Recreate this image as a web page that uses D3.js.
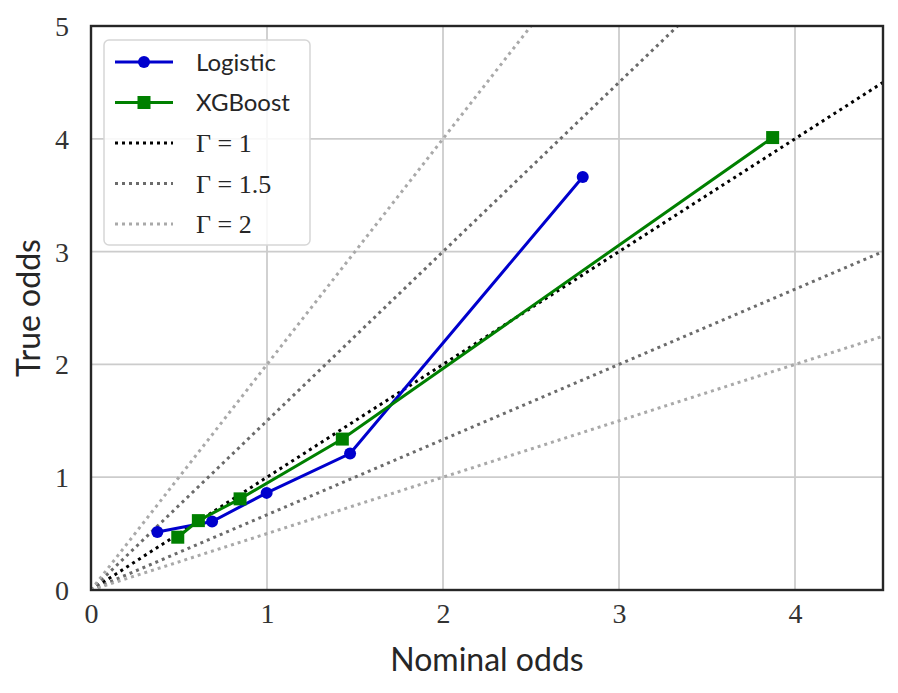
<!DOCTYPE html>
<html><head><meta charset="utf-8">
<script src="https://cdn.jsdelivr.net/npm/d3@7"></script>
<style>body{margin:0;background:#fff}</style>
</head><body>
<svg id="c" width="898" height="693"></svg>
<script>
const logisticX = [0.377, 0.688, 0.998, 1.472, 2.794];
const logisticY = [0.515, 0.607, 0.861, 1.21, 3.662];
const xgbX = [0.493, 0.610, 0.847, 1.428, 3.873];
const xgbY = [0.468, 0.615, 0.808, 1.338, 4.011];
const gammas = [1, 1.5, 2];
const gammaColors = ["#000000", "#6b6b6b", "#a9a9a9"];
const xTicks = [0, 1, 2, 3, 4];
const yTicks = [0, 1, 2, 3, 4, 5];
const xDomain = [0, 4.5], yDomain = [0, 5];

const svg = d3.select("#c");
const L = 91, R = 883, T = 26, B = 590;
const x = d3.scaleLinear().domain(xDomain).range([L, R]);
const y = d3.scaleLinear().domain(yDomain).range([B, T]);

const defs = svg.append("defs");
defs.append("clipPath").attr("id","clip").append("rect").attr("x",L).attr("y",T).attr("width",R-L).attr("height",B-T);

// grid
const g = svg.append("g");
g.selectAll(".gx").data(xTicks).join("line").attr("x1",d=>x(d)).attr("x2",d=>x(d)).attr("y1",T).attr("y2",B)
 .attr("stroke","#cccccc").attr("stroke-width",1.8);
g.selectAll(".gy").data(yTicks).join("line").attr("y1",d=>y(d)).attr("y2",d=>y(d)).attr("x1",L).attr("x2",R)
 .attr("stroke","#cccccc").attr("stroke-width",1.8);

// gamma lines
const cl = svg.append("g").attr("clip-path","url(#clip)");
const dash = "3,4";
gammas.forEach((G,i)=>{
  const slopes = G===1 ? [1] : [G, 1/G];
  slopes.forEach(s=>{
    const xe = Math.min(xDomain[1], yDomain[1]/s);
    const line = d3.line().x(d=>x(d[0])).y(d=>y(d[1]));
    cl.append("path").attr("d", line([[0,0],[xe, xe*s]]))
      .attr("fill","none").attr("stroke",gammaColors[i]).attr("stroke-width",3)
      .attr("stroke-dasharray",dash).attr("stroke-linecap","butt");
  });
});

// series
const lineGen = d3.line().x(d=>x(d[0])).y(d=>y(d[1]));
const logData = logisticX.map((v,i)=>[v,logisticY[i]]);
const xgbData = xgbX.map((v,i)=>[v,xgbY[i]]);
const blue = "#0000cd", green = "#008000";
cl.append("path").attr("d",lineGen(logData)).attr("fill","none").attr("stroke",blue).attr("stroke-width",3);
cl.selectAll(".lp").data(logData).join("circle").attr("cx",d=>x(d[0])).attr("cy",d=>y(d[1])).attr("r",6).attr("fill",blue);
cl.append("path").attr("d",lineGen(xgbData)).attr("fill","none").attr("stroke",green).attr("stroke-width",3);
cl.selectAll(".xp").data(xgbData).join("rect").attr("x",d=>x(d[0])-6.5).attr("y",d=>y(d[1])-6.5).attr("width",13).attr("height",13).attr("fill",green);

// spines
svg.append("rect").attr("x",L).attr("y",T).attr("width",R-L).attr("height",B-T).attr("fill","none").attr("stroke","#262626").attr("stroke-width",2.4);

// ticks
const xAxis = d3.axisBottom(x).tickValues(xTicks).tickSize(0).tickPadding(12).tickFormat(d3.format("d"));
const xa = svg.append("g").attr("transform",`translate(0,${B})`).call(xAxis);
const yAxis = d3.axisLeft(y).tickValues(yTicks).tickSize(0).tickPadding(22).tickFormat(d3.format("d"));
const ya = svg.append("g").attr("transform",`translate(${L},0)`).call(yAxis);
[xa,ya].forEach(a=>{a.select(".domain").remove();
  a.selectAll("text").attr("font-family","'Liberation Serif','DejaVu Serif',serif").attr("font-size",28).attr("fill","#333333");});
xa.selectAll("text").attr("dy","0.75em");
ya.selectAll("text").attr("dy","0.34em");

// axis labels
svg.append("text").attr("x",(L+R)/2).attr("y",671).attr("text-anchor","middle")
  .attr("font-family","Lato,'DejaVu Sans',sans-serif").attr("font-size",32).attr("fill","#262626").text("Nominal odds");
svg.append("text").attr("transform",`translate(40,${(T+B)/2}) rotate(-90)`).attr("text-anchor","middle")
  .attr("font-family","Lato,'DejaVu Sans',sans-serif").attr("font-size",32).attr("fill","#262626").text("True odds");

// legend
const lg = svg.append("g");
lg.append("rect").attr("x",104).attr("y",40).attr("width",206).attr("height",205).attr("rx",5)
  .attr("fill","#ffffff").attr("fill-opacity",0.85).attr("stroke","#d6d6d6").attr("stroke-width",1.5);
const items = [
  {label:"Logistic", color:blue, marker:"circle", dash:null, sans:true},
  {label:"XGBoost", color:green, marker:"square", dash:null, sans:true},
  ...gammas.map((G,i)=>({label:"Γ\u2005=\u2005"+G, color:gammaColors[i], marker:null, dash:dash, sans:false}))
];
items.forEach((it,i)=>{
  const yy = 62 + i*40.5;
  lg.append("line").attr("x1",115).attr("x2",173).attr("y1",yy).attr("y2",yy)
    .attr("stroke",it.color).attr("stroke-width",3).attr("stroke-dasharray",it.dash);
  if(it.marker==="circle") lg.append("circle").attr("cx",144).attr("cy",yy).attr("r",6).attr("fill",it.color);
  if(it.marker==="square") lg.append("rect").attr("x",137.5).attr("y",yy-6.5).attr("width",13).attr("height",13).attr("fill",it.color);
  lg.append("text").attr("x",196).attr("y",yy).attr("dy","0.36em")
    .attr("font-family", it.sans ? "Lato,'DejaVu Sans',sans-serif" : "'Liberation Serif','DejaVu Serif',serif")
    .attr("font-size", it.sans ? 24 : 26).attr("fill","#262626").text(it.label);
});
</script>
</body></html>
